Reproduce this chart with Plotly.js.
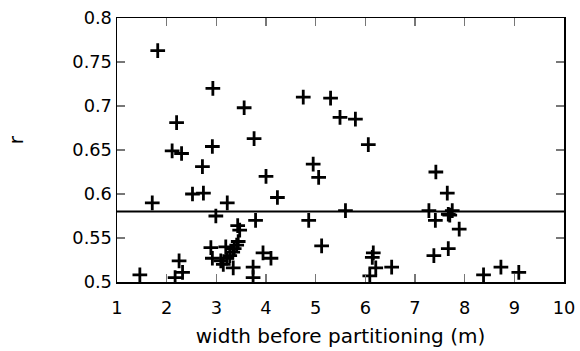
<!DOCTYPE html>
<html>
<head>
<meta charset="utf-8">
<script src="https://cdn.plot.ly/plotly-3.0.1.min.js"></script>
<style>html,body{margin:0;padding:0;background:#fff}#chart{width:580px;height:351px}</style>
</head>
<body>
<div id="chart"></div>
<script>
var widthM = [1.82, 2.93, 3.56, 2.20, 3.76, 2.92, 4.75, 5.30, 5.49, 5.80, 6.06,
  2.11, 2.30, 2.72, 4.00, 2.52, 2.74, 1.71, 3.22, 2.99, 3.79, 3.43, 3.47,
  1.46, 2.17, 2.32, 2.25, 2.89, 2.92, 3.09, 3.14, 3.19, 3.21, 3.27, 3.33, 3.34, 3.36, 3.41, 3.44,
  3.74, 3.74, 3.94, 4.10, 4.23, 4.95, 5.06, 4.86, 5.12, 5.60,
  7.42, 7.65, 7.28, 7.41, 7.67, 7.70, 7.75, 7.89, 7.67, 7.38,
  6.16, 6.14, 6.21, 6.09, 6.53, 8.38, 8.73, 9.09];
var rVals = [0.763, 0.720, 0.698, 0.681, 0.663, 0.654, 0.710, 0.709, 0.687, 0.685, 0.656,
  0.649, 0.646, 0.631, 0.620, 0.600, 0.601, 0.590, 0.590, 0.575, 0.570, 0.564, 0.559,
  0.508, 0.505, 0.511, 0.524, 0.539, 0.527, 0.524, 0.520, 0.540, 0.527, 0.530, 0.534, 0.516, 0.538, 0.542, 0.546,
  0.517, 0.505, 0.533, 0.527, 0.596, 0.634, 0.619, 0.570, 0.541, 0.581,
  0.625, 0.601, 0.581, 0.570, 0.577, 0.576, 0.581, 0.560, 0.538, 0.530,
  0.533, 0.528, 0.516, 0.507, 0.517, 0.508, 0.517, 0.511];
var refLineX = [1, 10];
var refLineY = [0.58, 0.58];
var xTicks = [1, 2, 3, 4, 5, 6, 7, 8, 9, 10];
var yTicks = [0.5, 0.55, 0.6, 0.65, 0.7, 0.75, 0.8];
var yTickText = ['0.5', '0.55', '0.6', '0.65', '0.7', '0.75', '0.8'];

var traces = [
  {x: refLineX, y: refLineY, mode: 'lines', line: {color: '#000', width: 2}, hoverinfo: 'skip', showlegend: false},
  {x: widthM, y: rVals, mode: 'markers', showlegend: false,
   marker: {symbol: 'cross-thin', size: 10.5, color: '#000', line: {color: '#000', width: 2.8}}}
];
var tickFnt = {family: 'DejaVu Sans', size: 17.8, color: '#000'};
var titleFnt = {family: 'DejaVu Sans', size: 20, color: '#000'};
var layout = {
  width: 580, height: 351,
  margin: {l: 117, r: 16, t: 18, b: 69},
  paper_bgcolor: '#fff', plot_bgcolor: '#fff',
  font: tickFnt,
  xaxis: {range: [1, 10], tickvals: xTicks, ticks: 'inside', ticklen: 8, tickwidth: 1.2, tickcolor: '#777',
    showline: true, linecolor: '#000', linewidth: 1.5, mirror: 'ticks', showgrid: false, zeroline: false,
    ticklabelstandoff: 9,
    tickfont: tickFnt, title: {text: 'width before partitioning (m)', font: titleFnt, standoff: 12}},
  yaxis: {range: [0.5, 0.8], tickvals: yTicks, ticktext: yTickText, ticks: 'inside', ticklen: 8, tickwidth: 1.2, tickcolor: '#777',
    showline: true, linecolor: '#000', linewidth: 1.5, mirror: 'ticks', showgrid: false, zeroline: false,
    tickfont: tickFnt},
  annotations: [{text: 'r', xref: 'paper', yref: 'paper', x: -0.224, y: 0.54, textangle: -90,
    showarrow: false, font: titleFnt, xanchor: 'center', yanchor: 'middle'}]
};
Plotly.newPlot('chart', traces, layout, {displayModeBar: false, staticPlot: true});
</script>
</body>
</html>
